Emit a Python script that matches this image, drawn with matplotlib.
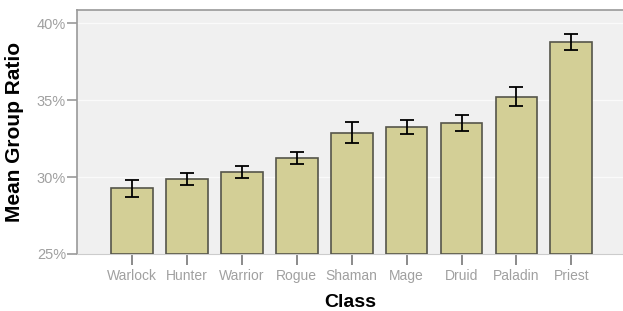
import matplotlib
matplotlib.use("Agg")
import matplotlib.pyplot as plt
from matplotlib.ticker import FuncFormatter

plt.rcParams["font.family"] = ["Liberation Sans", "DejaVu Sans"]

classes = ["Warlock", "Hunter", "Warrior", "Rogue", "Shaman", "Mage", "Druid", "Paladin", "Priest"]
means = [29.26, 29.85, 30.33, 31.22, 32.89, 33.26, 33.52, 35.22, 38.80]
errs = [0.53, 0.40, 0.39, 0.40, 0.67, 0.47, 0.53, 0.60, 0.52]
yticks = [25, 30, 35, 40]

fig = plt.figure(figsize=(6.23, 3.11), dpi=100)
ax = fig.add_axes([0.1236, 0.1833, 0.8764, 0.7845])
ax.set_facecolor("#f0f0f0")

x = list(range(len(classes)))
ax.bar(x, [m - 25 for m in means], bottom=25, width=0.76, color="#d3cf96",
       edgecolor="#55554a", linewidth=1.2, zorder=3)
ax.errorbar(x, means, yerr=errs, fmt="none", ecolor="black", elinewidth=1.3,
            capsize=5, capthick=1.3, zorder=4)

ax.set_ylim(25, 40.85)
ax.set_xlim(-1.0, 8.94)
ax.set_yticks(yticks)
ax.yaxis.set_major_formatter(FuncFormatter(lambda v, p: f"{int(v)}%"))
ax.set_xticks(x)
ax.set_xticklabels(classes)
ax.grid(axis="y", color="#fafafa", linewidth=1.0, zorder=1)

for s in ["left", "top"]:
    ax.spines[s].set_color("#999999")
    ax.spines[s].set_linewidth(1.2)
ax.spines["right"].set_visible(False)
ax.spines["bottom"].set_color("#cccccc")
ax.spines["bottom"].set_linewidth(0.8)

ax.tick_params(axis="y", colors="#999999", labelcolor="#a0a0a0", labelsize=10.5,
               length=7, width=1.2, direction="out", pad=1)
ax.tick_params(axis="x", colors="#777777", labelcolor="#a0a0a0", labelsize=10,
               length=8, width=1.2, direction="out", pad=3)

ax.set_ylabel("Mean Group Ratio", fontsize=15, fontweight="bold", labelpad=9)
ax.set_xlabel("Class", fontsize=14, fontweight="bold", labelpad=8)

fig.savefig("out.png", dpi=100)
